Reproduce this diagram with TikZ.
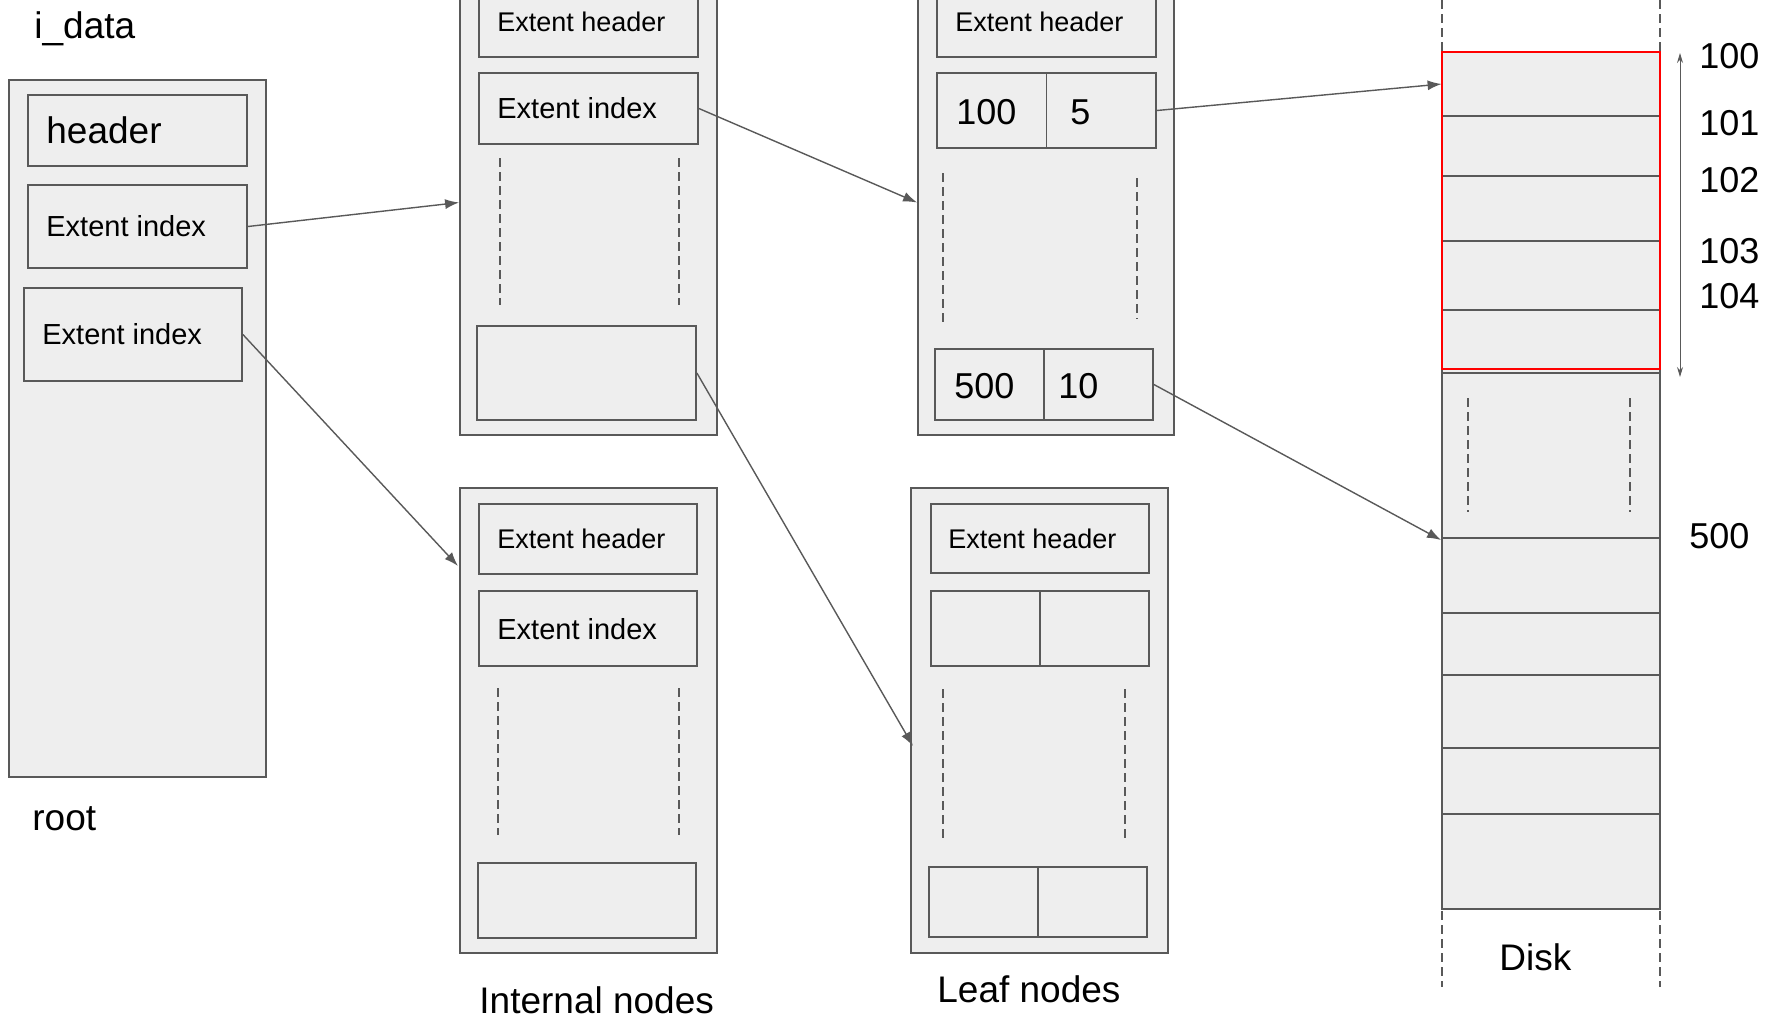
\documentclass[tikz,border=0pt]{standalone}
\usepackage{fontspec}
\setmainfont{Liberation Sans}
\usetikzlibrary{fit,arrows.meta}
\definecolor{boxgray}{HTML}{EEEEEE}
\definecolor{linegray}{HTML}{595959}
\definecolor{blockred}{HTML}{FF0000}
\tikzset{
  blk/.style={draw=linegray, fill=boxgray, line width=0.9pt, inner sep=0pt},
  txt/.style={anchor=base west, inner sep=0pt, font=\fontsize{#1}{#1}\selectfont},
  txt/.default=18.5,
  link/.style={draw=linegray, line width=0.7pt, -{Latex[length=7pt,width=5pt]}},
  gap/.style={draw=linegray, line width=0.6pt, dash pattern=on 4.5pt off 2.5pt},
  rule/.style={draw=linegray, line width=0.9pt},
}
\begin{document}
\begin{tikzpicture}[x=0.5pt,y=-0.5pt]
  \useasboundingbox (0,0) rectangle (1768,1019);
  \clip (0,0) rectangle (1768,1019);

  \node[blk, fit={(9,80) (266,777)}] (root) {};
  \node[blk, fit={(28,95) (247,166)}] (rhdr) {};
  \node[blk, fit={(28,185) (247,268)}] (rei1) {};
  \node[blk, fit={(24,288) (242,381)}] (rei2) {};
  \node[txt] (tidata) at (34,38) {i\_data};
  \node[txt] (thdr) at (46,143) {header};
  \node[txt=14.5] (tei1) at (46,236) {Extent index};
  \node[txt=14.5] (tei2) at (42,344) {Extent index};
  \node[txt] (troot) at (32,830) {root};

  \node[blk, fit={(460,-30) (717,435)}] (int1) {};
  \node[blk, fit={(479,-14) (698,57)}] (i1hdr) {};
  \node[blk, fit={(479,73) (698,144)}] (i1idx) {};
  \node[blk, fit={(477,326) (696,420)}] (i1last) {};
  \draw[gap] (500,158) -- (500,305) (679,158) -- (679,305);
  \node[txt=13.5] (ti1hdr) at (497,31) {Extent header};
  \node[txt=14.5] (ti1idx) at (497,118) {Extent index};

  \node[blk, fit={(460,488) (717,953)}] (int2) {};
  \node[blk, fit={(479,504) (697,574)}] (i2hdr) {};
  \node[blk, fit={(479,591) (697,666)}] (i2idx) {};
  \node[blk, fit={(478,863) (696,938)}] (i2last) {};
  \draw[gap] (498,688) -- (498,835) (679,688) -- (679,835);
  \node[txt=13.5] (ti2hdr) at (497,548) {Extent header};
  \node[txt=14.5] (ti2idx) at (497,639) {Extent index};
  \node[txt] (tint) at (479,1013) {Internal nodes};

  \node[blk, fit={(918,-30) (1174,435)}] (leaf1) {};
  \node[blk, fit={(937,-14) (1156,57)}] (l1hdr) {};
  \node[blk, fit={(937,73) (1156,148)}] (l1a) {};
  \node[blk, fit={(935,349) (1153,420)}] (l1b) {};
  \draw[rule] (l1a.north) -- (l1a.south) (l1b.north) -- (l1b.south);
  \draw[gap] (943,173) -- (943,322) (1137,178) -- (1137,319);
  \node[txt=13.5] (tl1hdr) at (955,31) {Extent header};
  \node[txt=18] (tl1a) at (956,124) {100};
  \node[txt=18] (tl1b) at (1070,124) {5};
  \node[txt=18] (tl1c) at (954,398) {500};
  \node[txt=18] (tl1d) at (1058,398) {10};

  \node[blk, fit={(911,488) (1168,953)}] (leaf2) {};
  \node[blk, fit={(931,504) (1149,573)}] (l2hdr) {};
  \node[blk, fit={(931,591) (1149,666)}] (l2a) {};
  \node[blk, fit={(929,867) (1147,937)}] (l2b) {};
  \draw[rule] (l2a.north) -- (l2a.south) (l2b.north) -- (l2b.south);
  \draw[gap] (943,689) -- (943,838) (1125,689) -- (1125,838);
  \node[txt=13.5] (tl2hdr) at (948,548) {Extent header};
  \node[txt] (tleaf) at (937,1002) {Leaf nodes};

  \node[blk, fit={(1442,52) (1660,909)}] (disk) {};
  \foreach \y in {116,176,241,310,373,538,613,675,748,814}
    \draw[rule] (1442,\y) -- (1660,\y);
  \node[fit={(1442,52) (1660,116)}, inner sep=0pt] (cell0) {};
  \node[draw=blockred, line width=1.1pt, fit={(1442,52) (1660,369)}, inner sep=0pt] (run) {};
  \draw[gap] (1442,0) -- (1442,52) (1660,0) -- (1660,52)
             (1442,911) -- (1442,987) (1660,911) -- (1660,987)
             (1468,398) -- (1468,512) (1630,398) -- (1630,512);
  \coordinate (cell500) at (1441,540);
  \coordinate (rtop) at (1680,53);
  \coordinate (rbot) at (1680,377);
  \draw[linegray, line width=0.5pt, {Stealth[length=5pt,width=3pt]}-{Stealth[length=5pt,width=3pt]}] (rtop) -- (rbot);
  \node[txt=18] (n100) at (1699,68) {100};
  \node[txt=18] (n101) at (1699,135) {101};
  \node[txt=18] (n102) at (1699,192) {102};
  \node[txt=18] (n103) at (1699,263) {103};
  \node[txt=18] (n104) at (1699,308) {104};
  \node[txt=18] (n500) at (1689,548) {500};
  \node[txt] (tdisk) at (1499,970) {Disk};

  \coordinate (int2in) at (458,566);
  \coordinate (leaf2in) at (913,746);
  \draw[link] (rei1.east) -- (int1.west);
  \draw[link] (rei2.east) -- (int2in);
  \draw[link] (i1idx.east) -- (leaf1.west);
  \draw[link] (i1last.east) -- (leaf2in);
  \draw[link] (l1a.east) -- (cell0.west);
  \draw[link] (l1b.east) -- (cell500);
\end{tikzpicture}
\end{document}
